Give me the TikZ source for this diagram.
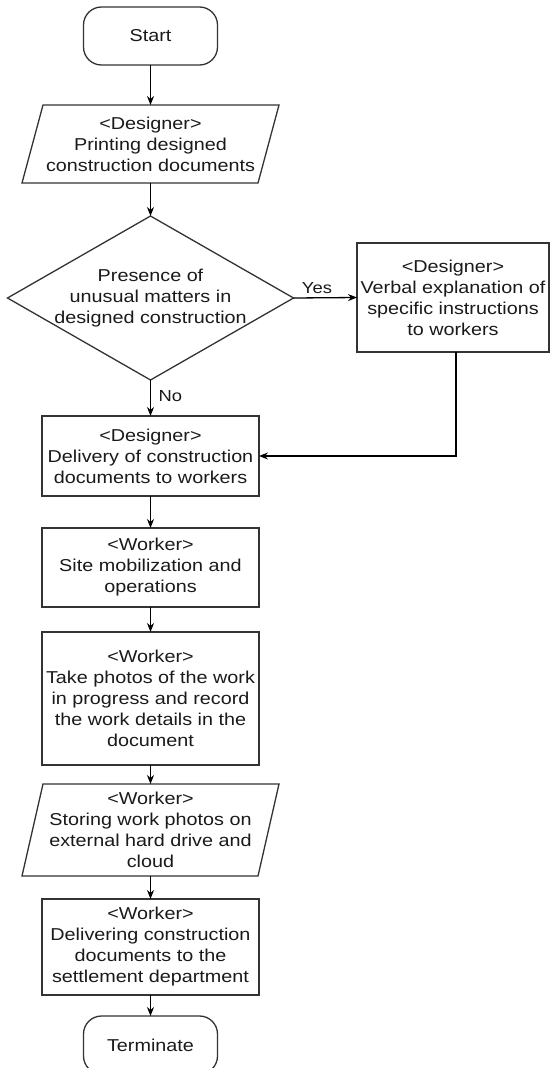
\documentclass[tikz,border=0pt]{standalone}
\usepackage{fontspec}
\setmainfont[FakeStretch=1.15]{Liberation Sans}
\usetikzlibrary{arrows.meta}
\definecolor{edge}{HTML}{333333}
\definecolor{ink}{HTML}{1A1A1A}
\begin{document}
\begin{tikzpicture}[x=1pt,y=-1pt,
  font=\fontsize{17.2}{21}\selectfont,
  every node/.style={text=ink, inner sep=0pt, outer sep=0pt, align=center},
  shapeline/.style={draw=edge, line width=1.3pt, line join=miter},
  terminal/.style={shapeline, rounded corners=18pt, minimum width=134pt, minimum height=58pt},
  process/.style={shapeline, minimum width=217pt},
  textbox/.style={minimum width=#1},
  flow/.style={draw=black, line width=1.3pt, -{Stealth[length=9pt,width=7pt]}},
  plain/.style={draw=black, line width=1.3pt},
  lbl/.style={font=\fontsize{16}{19}\selectfont}
]
\fill[white] (0,0) rectangle (550,1068);
\useasboundingbox (0,0) rectangle (550,1068);

% parallelogram outline around a rectangular text node
\newcommand\drawslanted[2]{%
  \draw[shapeline] ([xshift=#2]#1.north west) -- ([xshift=#2]#1.north east)
    -- ([xshift=-#2]#1.south east) -- ([xshift=-#2]#1.south west) -- cycle;}

% nodes
\node[terminal] (start) at (150.5,36) {Start};
\node[minimum width=236pt, minimum height=78pt] (print) at (150.5,144)
  {<Designer>\\Printing designed\\construction documents};
\drawslanted{print}{10.5pt}

\node[minimum width=286pt, minimum height=164pt] (check) at (150.5,298)
  {Presence of\\unusual matters in\\designed construction};
\draw[shapeline] (check.north) -- (check.east) -- (check.south) -- (check.west) -- cycle;

\node[shapeline, minimum width=192pt, minimum height=109pt] (verbal) at (453,297.5)
  {<Designer>\\Verbal explanation of\\specific instructions\\to workers};

\node[process, minimum height=80pt] (deliver) at (150.5,456)
  {<Designer>\\Delivery of construction\\documents to workers};
\node[process, minimum height=79pt] (site) at (150.5,567.5)
  {<Worker>\\Site mobilization and\\operations};
\node[process, minimum height=133pt] (photos) at (150.5,698.5)
  {<Worker>\\Take photos of the work\\in progress and record\\the work details in the\\document};
\node[minimum width=236pt, minimum height=92pt] (store) at (150.5,830)
  {<Worker>\\Storing work photos on\\external hard drive and\\cloud};
\drawslanted{store}{10.5pt}
\node[process, minimum height=96pt] (settle) at (150.5,947)
  {<Worker>\\Delivering construction\\documents to the\\settlement department};
\node[terminal] (term) at (150.5,1045) {Terminate};

% connectors
\draw[flow] (start.south) -- (print.north);
\draw[flow] (print.south) -- (check.north);
\draw[flow] (check.east) -- node[lbl, above=4pt, pos=0.37] (yes) {Yes} (verbal.west);
\draw[flow] (check.south) -- node[lbl, right=8pt, pos=0.45] (no) {No} (deliver.north);
\draw[flow] ([xshift=3pt]verbal.south) |- (deliver.east);
\draw[flow] (deliver.south) -- (site.north);
\draw[flow] (site.south) -- (photos.north);
\draw[flow] (photos.south) -- (store.north);
\draw[flow] (store.south) -- (settle.north);
\draw[flow] (settle.south) -- (term.north);
\end{tikzpicture}
\end{document}
